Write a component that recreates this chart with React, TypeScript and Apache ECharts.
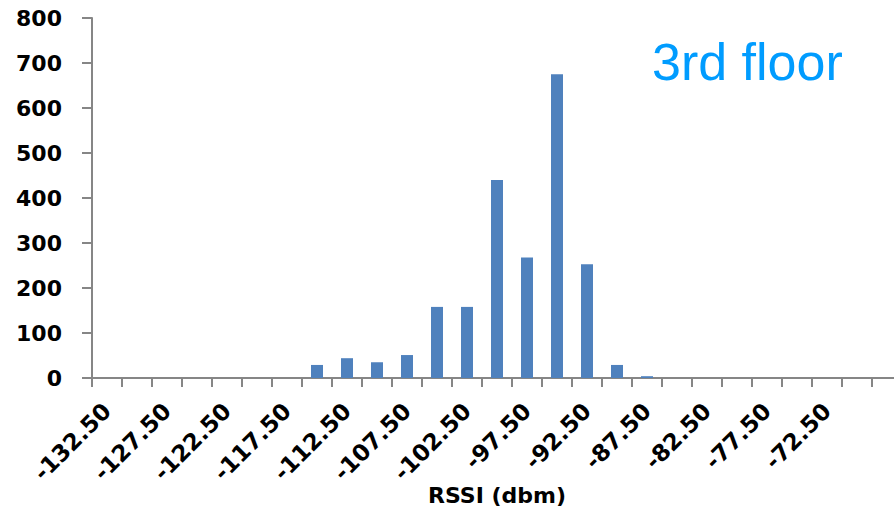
import React, { useEffect, useRef } from "react";
import * as echarts from "echarts";

const categories: string[] = [
  "-132.50", "-130.00", "-127.50", "-125.00", "-122.50", "-120.00", "-117.50",
  "-115.00", "-112.50", "-110.00", "-107.50", "-105.00", "-102.50", "-100.00",
  "-97.50", "-95.00", "-92.50", "-90.00", "-87.50", "-85.00", "-82.50",
  "-80.00", "-77.50", "-75.00", "-72.50", "-70.00", "-67.50",
];

const counts: number[] = [
  0, 0, 0, 0, 0, 0, 0,
  29, 44, 35, 51, 158, 158, 440,
  268, 675, 253, 29, 4, 0, 0,
  0, 0, 0, 0, 0, 0,
];

const yMin = 0;
const yMax = 800;
const yStep = 100;
const xAxisTitle = "RSSI (dbm)";
const chartTitle = "3rd floor";

export default function App() {
  const ref = useRef<HTMLDivElement>(null);
  useEffect(() => {
    if (!ref.current) return;
    const chart = echarts.init(ref.current, undefined, { renderer: "svg" });
    const bold = {
      fontFamily: "DejaVu Sans",
      fontWeight: "bold" as const,
      color: "#000",
      fontSize: 22,
    };
    const lastIdx = categories.length - 1;
    chart.setOption({
      animation: false,
      backgroundColor: "#fff",
      grid: {
        left: 92,
        right: 8,
        top: 18,
        bottom: 134,
        containLabel: false,
        outerBoundsMode: "none",
      },
      xAxis: {
        type: "category",
        data: categories,
        boundaryGap: true,
        name: xAxisTitle,
        nameLocation: "middle",
        nameGap: 106,
        nameMoveOverlap: false,
        nameTextStyle: { ...bold, fontSize: 22 },
        axisLine: { show: true, lineStyle: { color: "#868686", width: 2 } },
        axisTick: {
          show: true,
          interval: 0,
          length: 9,
          lineStyle: { color: "#868686", width: 2 },
        },
        axisLabel: {
          ...bold,
          fontSize: 23,
          interval: (i: number) => i % 2 === 0 && i < lastIdx,
          rotate: 45,
          margin: 29,
        },
        splitLine: { show: false },
      },
      yAxis: {
        type: "value",
        min: yMin,
        max: yMax,
        interval: yStep,
        axisLine: { show: true, lineStyle: { color: "#868686", width: 2 } },
        axisTick: {
          show: true,
          length: 10,
          inside: false,
          lineStyle: { color: "#868686", width: 2 },
        },
        axisLabel: { ...bold, margin: 30 },
        splitLine: { show: false },
      },
      series: [
        {
          type: "bar",
          data: counts,
          barWidth: "40%",
          itemStyle: { color: "#4F81BD" },
        },
      ],
      graphic: [
        {
          type: "text",
          left: 652,
          top: 36,
          style: {
            text: chartTitle,
            fontFamily: "Liberation Sans",
            fontSize: 52,
            fill: "#009CFF",
          },
        },
      ],
    });
    return () => chart.dispose();
  }, []);
  return (
    <div
      style={{
        position: "absolute",
        left: 0,
        top: 0,
        width: 894,
        height: 512,
        overflow: "hidden",
        background: "#fff",
      }}
    >
      <div ref={ref} style={{ width: 910, height: 512 }} />
    </div>
  );
}
